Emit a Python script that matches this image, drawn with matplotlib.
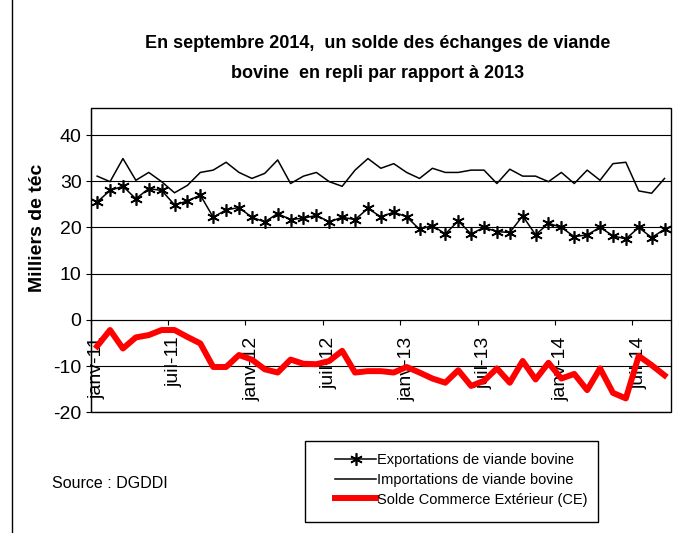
import matplotlib
matplotlib.use('Agg')
import matplotlib.pyplot as plt
from matplotlib.patches import Rectangle
from matplotlib.lines import Line2D
from matplotlib.ticker import FixedLocator, NullFormatter, FixedFormatter

plt.rcParams['font.family'] = ['Liberation Sans', 'DejaVu Sans']
plt.rcParams['axes.unicode_minus'] = False

# mois janv-11 .. sept-14
mois = ['janv', 'févr', 'mars', 'avr', 'mai', 'juin', 'juil', 'août', 'sept', 'oct', 'nov', 'déc']
annees = ['11', '12', '13', '14']
periodes = [m + '-' + a for a in annees for m in mois][:45]

exportations = [25.5, 28.0, 28.9, 26.2, 28.4, 28.0, 24.9, 25.7, 27.0, 22.2,
                23.8, 24.3, 22.2, 21.2, 23.0, 21.7, 22.0, 22.6, 21.2, 22.2,
                21.7, 24.1, 22.3, 23.3, 22.3, 19.6, 20.4, 18.6, 21.4, 18.6,
                20.0, 19.1, 18.9, 22.5, 18.4, 20.9, 20.0, 18.0, 18.4, 20.0,
                18.2, 17.5, 20.0, 17.8, 19.6]
importations = [31.1, 29.9, 34.9, 30.2, 31.9, 29.9, 27.5, 29.1, 31.9, 32.4,
                34.1, 31.9, 30.6, 31.7, 34.6, 29.5, 31.1, 31.9, 29.9, 28.9,
                32.4, 34.9, 32.8, 33.8, 31.9, 30.6, 32.8, 31.9, 31.9, 32.4,
                32.4, 29.5, 32.6, 31.1, 31.1, 29.9, 31.9, 29.5, 32.4, 30.2,
                33.8, 34.1, 27.9, 27.4, 30.6]
solde = [-5.7, -2.2, -6.2, -3.8, -3.3, -2.2, -2.2, -3.7, -5.1, -10.2,
         -10.2, -7.6, -8.6, -10.7, -11.4, -8.6, -9.5, -9.6, -8.9, -6.7,
         -11.4, -11.1, -11.1, -11.4, -10.2, -11.4, -12.7, -13.6, -10.9, -14.3,
         -13.2, -10.5, -13.6, -8.9, -12.9, -9.3, -12.7, -11.7, -15.2, -10.5,
         -15.8, -17.0, -7.8, -9.8, -12.0]

x = list(range(len(periodes)))

fig = plt.figure(figsize=(6.83, 5.33), dpi=100)
ax = fig.add_axes([0.1328, 0.2265, 0.8496, 0.5705])

l1, = ax.plot(x, exportations, color='black', lw=1.1, marker=(6, 2, 0), ms=9, mew=1.2)
l2, = ax.plot(x, importations, color='black', lw=1.1)
l3, = ax.plot(x, solde, color='#ff0000', lw=4.3)

ax.set_xlim(-0.5, len(periodes) - 0.5)
ax.set_ylim(-20, 45.8)
ax.set_yticks([-20, -10, 0, 10, 20, 30, 40])
ax.yaxis.grid(True, color='black', lw=0.8)
ax.set_axisbelow(True)

for s in ['top', 'right']:
    ax.spines[s].set_visible(False)
ax.spines['bottom'].set_position(('data', 0))
ax.add_patch(Rectangle((0, 0), 1, 1, transform=ax.transAxes, fill=False,
                       edgecolor='black', lw=1, clip_on=False))

# graduations entre les catégories, étiquettes tous les 6 mois
ax.xaxis.set_major_locator(FixedLocator([i - 0.5 for i in x[::6]]))
ax.xaxis.set_major_formatter(NullFormatter())
ax.xaxis.set_minor_locator(FixedLocator(x[::6]))
ax.xaxis.set_minor_formatter(FixedFormatter(periodes[::6]))
ax.tick_params(axis='x', which='major', direction='out', length=3.5, width=0.8)
ax.tick_params(axis='x', which='minor', length=0, pad=12, labelsize=14, labelrotation=90)
ax.tick_params(axis='y', direction='out', length=3.6, width=0.8, pad=3, labelsize=14)

fig.text(0.0556, 0.572, 'Milliers de téc', rotation=90, ha='center', va='center',
         fontsize=14, fontweight='bold')

fig.text(0.553, 0.919, 'En septembre 2014,  un solde des échanges de viande',
         ha='center', va='center', fontsize=13, fontweight='bold')
fig.text(0.553, 0.863, 'bovine  en repli par rapport à 2013',
         ha='center', va='center', fontsize=13, fontweight='bold')

fig.text(52 / 683, 1 - 483 / 533, 'Source : DGDDI', ha='left', va='center', fontsize=11.5)

fig.add_artist(Rectangle((305 / 683, 1 - 522 / 533), 293 / 683, 81 / 533,
                         transform=fig.transFigure, fill=False, edgecolor='black', lw=1))
fig.legend([l1, l2, l3],
           ['Exportations de viande bovine', 'Importations de viande bovine',
            'Solde Commerce Extérieur (CE)'],
           loc='center', bbox_to_anchor=(461.5 / 683, 1 - 479.7 / 533),
           frameon=False, fontsize=10.5, handlelength=2.75, handletextpad=0.1,
           labelspacing=0.4, borderpad=0)

fig.add_artist(Line2D([12 / 683, 12 / 683], [0, 1], transform=fig.transFigure,
                      color='black', lw=1))

fig.savefig('out.png', dpi=100)
